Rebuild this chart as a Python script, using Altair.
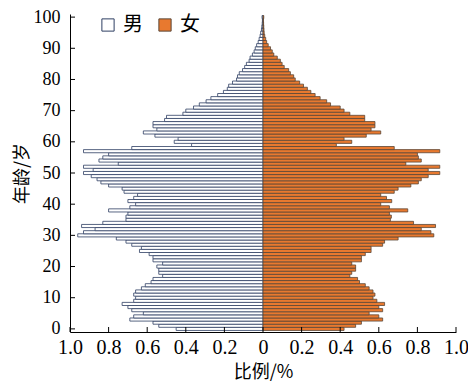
import altair as alt
import pandas as pd

ages = list(range(101))
male = [0.45, 0.54, 0.57, 0.69, 0.67, 0.62, 0.68, 0.70, 0.73, 0.67,
        0.66, 0.67, 0.66, 0.63, 0.61, 0.58, 0.57, 0.52, 0.54, 0.54,
        0.55, 0.52, 0.57, 0.57, 0.59, 0.64, 0.63, 0.68, 0.71, 0.76,
        0.96, 0.93, 0.87, 0.94, 0.83, 0.71, 0.71, 0.70, 0.80, 0.69,
        0.66, 0.70, 0.67, 0.65, 0.72, 0.73, 0.80, 0.84, 0.86, 0.89,
        0.93, 0.88, 0.93, 0.75, 0.85, 0.83, 0.80, 0.93, 0.68, 0.37,
        0.46, 0.44, 0.56, 0.62, 0.55, 0.57, 0.57, 0.51, 0.50, 0.415,
        0.40, 0.36, 0.33, 0.295, 0.27, 0.235, 0.205, 0.185, 0.178, 0.158,
        0.137, 0.132, 0.123, 0.106, 0.095, 0.086, 0.072, 0.067, 0.055, 0.046,
        0.040, 0.033, 0.025, 0.020, 0.015, 0.012, 0.008, 0.006, 0.004, 0.003,
        0.005]
female = [0.42, 0.48, 0.51, 0.62, 0.60, 0.55, 0.62, 0.60, 0.63, 0.59,
          0.57, 0.58, 0.57, 0.55, 0.53, 0.50, 0.49, 0.45, 0.46, 0.48,
          0.48, 0.46, 0.51, 0.51, 0.53, 0.56, 0.56, 0.62, 0.63, 0.70,
          0.885, 0.87, 0.82, 0.894, 0.78, 0.66, 0.665, 0.655, 0.75, 0.655,
          0.61, 0.667, 0.64, 0.61, 0.68, 0.70, 0.766, 0.805, 0.82, 0.856,
          0.916, 0.856, 0.916, 0.74, 0.82, 0.805, 0.80, 0.916, 0.68, 0.38,
          0.46, 0.42, 0.535, 0.61, 0.56, 0.58, 0.58, 0.527, 0.527, 0.45,
          0.42, 0.40, 0.35, 0.33, 0.296, 0.27, 0.248, 0.23, 0.21, 0.19,
          0.167, 0.159, 0.142, 0.133, 0.11, 0.099, 0.09, 0.074, 0.056, 0.048,
          0.039, 0.027, 0.019, 0.014, 0.009, 0.006, 0.005, 0.004, 0.003, 0.002,
          0.004]
sexes = ["男", "女"]
x_ticks = [-1.0, -0.8, -0.6, -0.4, -0.2, 0.0, 0.2, 0.4, 0.6, 0.8, 1.0]
y_ticks = [0, 10, 20, 30, 40, 50, 60, 70, 80, 90, 100]

rows = []
for a, m, f in zip(ages, male, female):
    rows.append({"age": a, "lo": a - 0.5, "hi": a + 0.5, "v": -m, "zero": 0, "sex": "男"})
    rows.append({"age": a, "lo": a - 0.5, "hi": a + 0.5, "v": f, "zero": 0, "sex": "女"})
df = pd.DataFrame(rows)

W, H = 386, 318
xscale = alt.Scale(domain=[-1, 1], nice=False, zero=False)
yscale = alt.Scale(domain=[-1, 101], nice=False, zero=False)

NUMFONT = "Liberation Serif"
CJKFONT = "Noto Sans CJK SC"

xaxis = alt.Axis(values=x_ticks, ticks=False, grid=False, labelFlush=False,
                 labelExpr="datum.value == 0 ? '0' : format(abs(datum.value), '.1f')",
                 labelFont=NUMFONT, labelFontSize=20, title="比例/%",
                 labelPadding=5, titlePadding=6)
yaxis = alt.Axis(values=y_ticks, ticks=False, grid=False, labelFlush=False, title="年龄/岁",
                 labelFont=NUMFONT, labelFontSize=18, labelPadding=10,
                 titleX=-39)

bars = alt.Chart(df).mark_bar(strokeWidth=0.8).encode(
    x=alt.X("v:Q", scale=xscale, axis=xaxis),
    x2="zero:Q",
    y=alt.Y("lo:Q", scale=yscale, axis=yaxis),
    y2="hi:Q",
    fill=alt.Fill("sex:N", scale=alt.Scale(domain=sexes, range=["white", "#E8792F"]),
                  legend=alt.Legend(orient="none", legendX=28, legendY=1, direction="horizontal",
                                    title=None, symbolType="square", symbolSize=150,
                                    symbolStrokeColor="#333333", symbolStrokeWidth=1,
                                    labelFont=CJKFONT, labelFontSize=20,
                                    labelColor="black", columnPadding=12, labelOffset=5,
                                    labelLimit=0)),
    stroke=alt.Stroke("sex:N", scale=alt.Scale(domain=sexes, range=["#2E3F63", "#5A4636"]),
                      legend=None),
)

xt = alt.Chart(pd.DataFrame({"t": x_ticks})).mark_rule(color="black", strokeWidth=1).encode(
    x=alt.X("t:Q", scale=xscale, axis=xaxis), y=alt.value(H), y2=alt.value(H - 5))
yt = alt.Chart(pd.DataFrame({"t": y_ticks})).mark_rule(color="black", strokeWidth=1).encode(
    y=alt.Y("t:Q", scale=yscale, axis=yaxis), x=alt.value(0), x2=alt.value(5))

chart = alt.layer(bars, xt, yt).properties(
    width=W, height=H,
    autosize=alt.AutoSizeParams(type="none"),
    padding={"left": 62, "top": 6, "right": 12, "bottom": 49},
).configure_view(stroke=None).configure_axis(
    domainColor="black", domainWidth=1, labelColor="black",
    titleFont=CJKFONT, titleFontSize=18, titleFontWeight="normal", titleColor="black",
)

chart.save("out.html", embed_options={"renderer": "svg", "actions": False})
